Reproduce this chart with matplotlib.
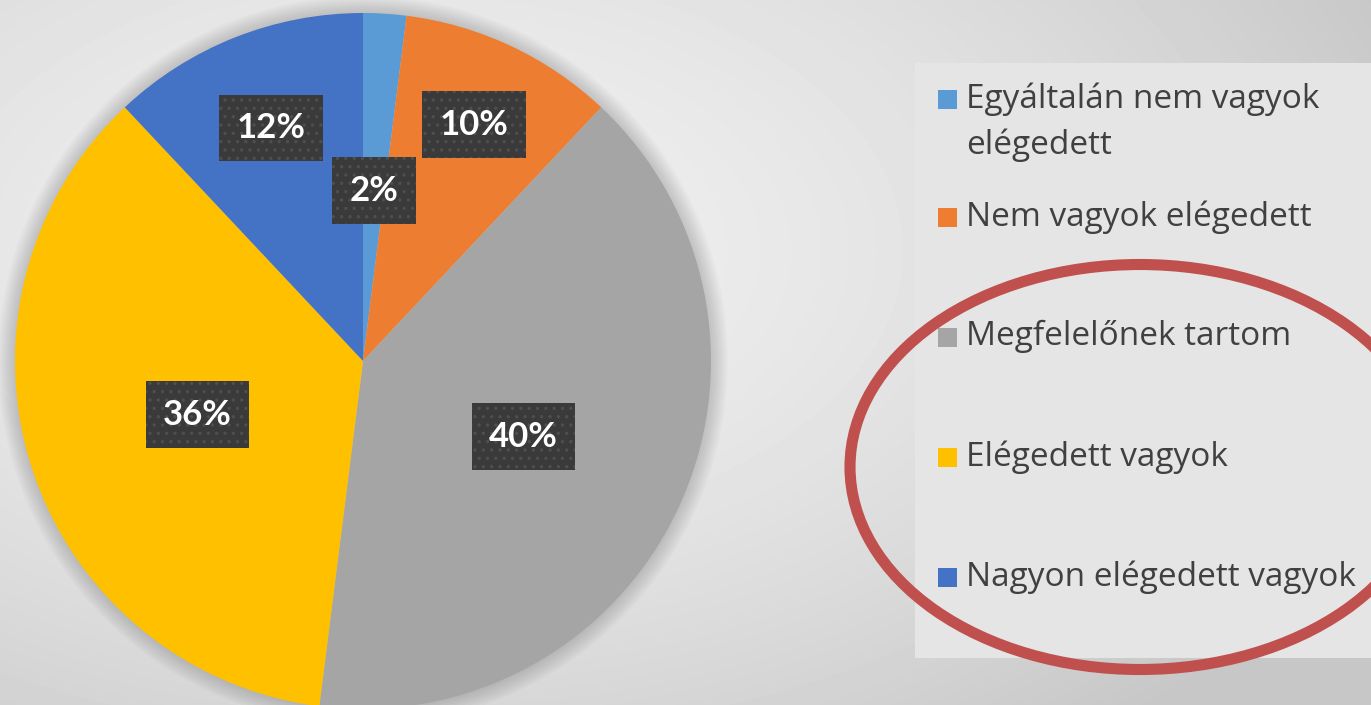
import matplotlib.pyplot as plt
import numpy as np
from matplotlib.patches import Rectangle, Ellipse, Circle

categories = ["Egyáltalán nem vagyok\nelégedett", "Nem vagyok elégedett",
              "Megfelelőnek tartom", "Elégedett vagyok", "Nagyon elégedett vagyok"]
values = [2, 10, 40, 36, 12]
colors = ["#5b9bd5", "#ed7d31", "#a5a5a5", "#ffc000", "#4472c4"]
label_dist = [0.49, 0.75, 0.51, 0.50, 0.72]   # where Excel put the data labels

W, H = 1371, 705
fig = plt.figure(figsize=(W / 100, H / 100), dpi=100)

# background: soft radial grey gradient, pixel coordinates
bg = fig.add_axes([0, 0, 1, 1], zorder=0)
yy, xx = np.mgrid[0:H, 0:W]
d = np.sqrt(((xx - 420) / 1100.0) ** 2 + ((yy - 250) / 650.0) ** 2)
shade = np.clip(0.94 - 0.17 * d ** 1.6, 0.78, 0.94)
bg.imshow(shade, cmap="gray", vmin=0, vmax=1, extent=[0, W, H, 0], aspect="auto")
bg.set_xlim(0, W)
bg.set_ylim(H, 0)
bg.axis("off")

# pie, centre at (363, 361) px, radius ~348 px
R = 348
cx, cy = 363, 361
ax = fig.add_axes([(cx - R) / W, (H - cy - R) / H, 2 * R / W, 2 * R / H], zorder=1)
# faint soft shadow round the pie
for k in range(8):
    ax.add_patch(Circle((0, 0), 1.0 + 0.006 * (k + 1), facecolor="black",
                        edgecolor="none", alpha=0.02, zorder=0, clip_on=False))
wedges, _ = ax.pie(values, colors=colors, startangle=90, counterclock=False, radius=1,
                   wedgeprops=dict(linewidth=0, zorder=2))
ax.set_xlim(-1, 1)
ax.set_ylim(-1, 1)
ax.axis("off")

plt.rcParams["hatch.linewidth"] = 1.2
for w, v, f in zip(wedges, values, label_dist):
    ang = np.deg2rad((w.theta1 + w.theta2) / 2)
    ax.text(f * np.cos(ang), f * np.sin(ang), f"{v}%", ha="center", va="center",
            color="white", fontsize=25, fontweight="bold", family="Lato", zorder=5,
            bbox=dict(boxstyle="square,pad=0.5", facecolor="#3a3a3a",
                      edgecolor="#4e4e4e", hatch="..", linewidth=0))

# overlay for legend and the hand-drawn red ellipse
ov = fig.add_axes([0, 0, 1, 1], zorder=2)
ov.set_xlim(0, W)
ov.set_ylim(H, 0)
ov.axis("off")
ov.add_patch(Rectangle((915, 63), W - 915, 658 - 63, facecolor="#e5e5e5", edgecolor="none"))

leg_y = [99, 217, 337, 457, 577]
for lab, c, y in zip(categories, colors, leg_y):
    ov.add_patch(Rectangle((938, y - 9), 19, 19, facecolor=c, edgecolor="none"))
    ov.text(966, y - 17, lab, ha="left", va="top", fontsize=24, family="Open Sans",
            color="#404040", linespacing=1.5)

ov.add_patch(Ellipse((1140, 467), 580, 405, fill=False, edgecolor="#c0504d", linewidth=8))

fig.savefig("out.png", dpi=100)
